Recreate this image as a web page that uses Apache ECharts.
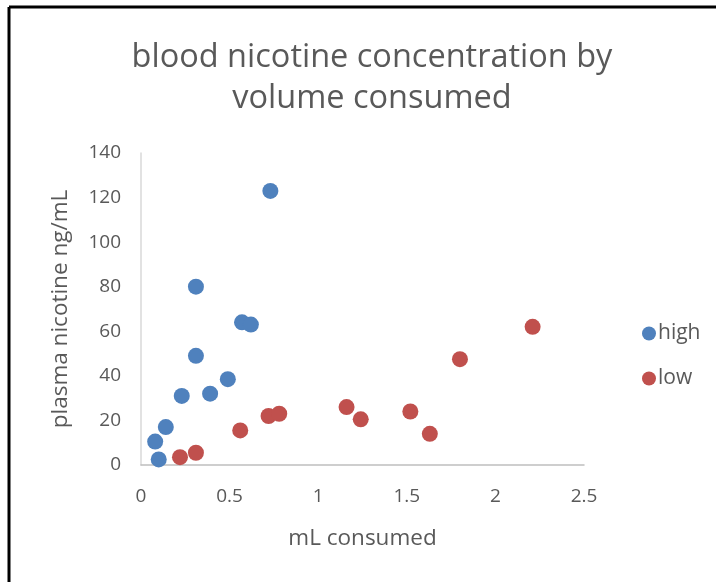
<!DOCTYPE html>
<html>
<head>
<meta charset="utf-8">
<script src="https://cdn.jsdelivr.net/npm/echarts@6/dist/echarts.min.js"></script>
<style>
  html, body { margin: 0; padding: 0; background: #fff; }
  #chart { width: 716px; height: 582px; }
</style>
</head>
<body>
<div id="chart"></div>
<script>
// Volume consumed (mL) and plasma nicotine (ng/mL), per group
const highX = [0.73, 0.31, 0.57, 0.62, 0.31, 0.49, 0.39, 0.23, 0.14, 0.08, 0.10];
const highY = [123, 80, 64, 63, 49, 38.5, 32, 31, 17, 10.5, 2.5];
const lowX = [2.21, 1.80, 1.16, 1.24, 1.52, 1.63, 0.72, 0.78, 0.56, 0.31, 0.22];
const lowY = [62, 47.5, 26, 20.5, 24, 14, 22, 23, 15.5, 5.5, 3.5];
const seriesNames = ['high', 'low'];
const seriesColors = ['#4F81BD', '#C0504D'];

const pairs = (xs, ys) => xs.map((x, i) => [x, ys[i]]);
const font = '"Open Sans", sans-serif';
const textColor = '#595959';

const chart = echarts.init(document.getElementById('chart'));
chart.setOption({
  animation: false,
  backgroundColor: '#fff',
  title: {
    text: 'blood nicotine concentration by\nvolume consumed',
    left: 367,
    textAlign: 'center',
    top: 32,
    textStyle: { fontFamily: font, fontSize: 32.5, fontWeight: 'normal', color: textColor, lineHeight: 41 }
  },
  legend: {
    orient: 'vertical',
    left: 637,
    top: 318,
    itemGap: 24,
    itemWidth: 14,
    itemHeight: 14,
    icon: 'circle',
    data: seriesNames,
    textStyle: { fontFamily: font, fontSize: 21, color: textColor, padding: [0, 0, 0, -3] }
  },
  grid: { left: 141, right: 132, top: 153, bottom: 117 },
  xAxis: {
    type: 'value',
    min: 0, max: 2.5, interval: 0.5,
    name: 'mL consumed',
    nameLocation: 'middle',
    nameGap: 62,
    nameTextStyle: { fontFamily: font, fontSize: 22.5, color: textColor },
    axisLine: { show: true, lineStyle: { color: '#BFBFBF', width: 1.5 } },
    axisTick: { show: false },
    splitLine: { show: false },
    axisLabel: { fontFamily: font, fontSize: 19, color: textColor, margin: 22 }
  },
  yAxis: {
    type: 'value',
    min: 0, max: 140, interval: 20,
    name: 'plasma nicotine ng/mL',
    nameLocation: 'middle',
    nameGap: 69,
    nameTextStyle: { fontFamily: font, fontSize: 22.5, color: textColor },
    axisLine: { show: true, lineStyle: { color: '#D9D9D9', width: 1.5 } },
    axisTick: { show: false },
    splitLine: { show: false },
    axisLabel: { fontFamily: font, fontSize: 19, color: textColor, margin: 20 }
  },
  series: [
    { name: seriesNames[0], type: 'scatter', symbolSize: 16, itemStyle: { color: seriesColors[0], opacity: 1 }, data: pairs(highX, highY) },
    { name: seriesNames[1], type: 'scatter', symbolSize: 16, itemStyle: { color: seriesColors[1], opacity: 1 }, data: pairs(lowX, lowY) }
  ],
  graphic: [
    // chart frame: top and left edges
    { type: 'line', shape: { x1: 9, y1: 7, x2: 716, y2: 7 }, style: { stroke: '#000', lineWidth: 3 } },
    { type: 'line', shape: { x1: 9, y1: 7, x2: 9, y2: 582 }, style: { stroke: '#000', lineWidth: 3 } }
  ]
});
</script>
</body>
</html>
